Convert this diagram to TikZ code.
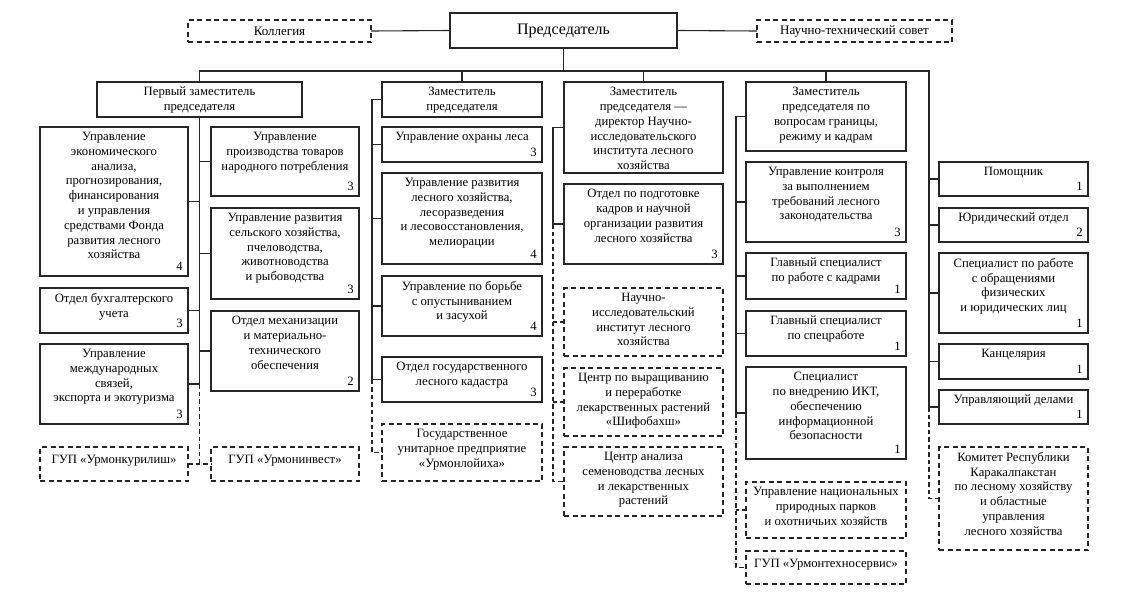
\documentclass[tikz,border=0pt]{standalone}
\usepackage{fontspec}
\setmainfont{Liberation Serif}
\tikzset{
 bx/.style={draw=black!85, line width=1.3pt, rectangle, inner sep=0pt, outer sep=0pt},
 dbx/.style={draw=black!85, line width=1.4pt, dash pattern=on 5pt off 3.5pt, rectangle, inner sep=0pt, outer sep=0pt},
 lbl/.style={align=center, inner xsep=1pt, inner ysep=5pt, font=\fontsize{12.7}{14.8}\selectfont, anchor=north},
 numl/.style={inner xsep=5pt, inner ysep=5pt, font=\fontsize{12.7}{14.8}\selectfont, anchor=south east},
 con/.style={draw=black!85, line width=1.1pt},
 dcon/.style={draw=black!85, line width=1.1pt, dash pattern=on 4.5pt off 3pt},
}
\newcommand\obox[7]{\node[#1, minimum width={(#5-#3)*1pt}, minimum height={(#6-#4)*1pt}] (#2) at ({(#3+#5)/2},{(#4+#6)/2}) {};
 \node[lbl] (#2t) at (#2.north) {#7};}
\newcommand\gbox[6]{\node[dbx, minimum width={(#5-#3)*1pt}, minimum height={(#6-#4)*1pt}] (#2) at ({(#3+#5)/2},{(#4+#6)/2}) {};
 \node[lbl, inner ysep=7.5pt] (#2t) at (#2.north) {#1};}
\newcommand\onum[2]{\node[numl] (#1n) at (#1.south east) {#2};}
\begin{document}
\begin{tikzpicture}[x=1pt,y=-1pt]
\useasboundingbox (0,0) rectangle (1126,605);
% top
\node[bx, minimum width=227pt, minimum height=35pt, font=\fontsize{16}{18}\selectfont] (pred) at (563.5,30.5) {Председатель};
\node[dbx, minimum width=183pt, minimum height=22pt, font=\fontsize{13}{14.8}\selectfont] (koll) at (279.5,31) {Коллегия};
\node[dbx, minimum width=195pt, minimum height=22pt, font=\fontsize{13}{14.8}\selectfont] (nts) at (854.5,31) {Научно-технический совет};
% deputies
\obox{bx}{z1}{97}{82}{302}{117}{Первый заместитель\\председателя}
\obox{bx}{z2}{382}{82}{542}{117}{Заместитель\\председателя}
\obox{bx}{z3}{564}{82}{723}{173}{Заместитель\\председателя —\\директор Научно-\\исследовательского\\института лесного\\хозяйства}
\obox{bx}{z4}{746}{82}{906}{151}{Заместитель\\председателя по\\вопросам границы,\\режиму и кадрам}
% column 1
\obox{bx}{a1}{40}{127}{188}{276}{Управление\\экономического\\анализа,\\прогнозирования,\\финансирования\\и управления\\средствами Фонда\\развития лесного\\хозяйства}\onum{a1}{4}
\obox{bx}{a2}{40}{288}{188}{333}{Отдел бухгалтерского\\учета}\onum{a2}{3}
\obox{bx}{a3}{40}{344}{188}{424}{Управление\\международных\\связей,\\экспорта и экотуризма}\onum{a3}{3}
\gbox{ГУП «Урмонкурилиш»}{a4}{40}{447}{188}{481}
\obox{bx}{b1}{211}{127}{359}{196}{Управление\\производства товаров\\народного потребления}\onum{b1}{3}
\obox{bx}{b2}{211}{208}{359}{299}{Управление развития\\сельского хозяйства,\\пчеловодства,\\животноводства\\и рыбоводства}\onum{b2}{3}
\obox{bx}{b3}{211}{311}{359}{391}{Отдел механизации\\и материально-\\технического\\обеспечения}\onum{b3}{2}
\gbox{ГУП «Урмонинвест»}{b4}{211}{447}{359}{481}
% column 2
\obox{bx}{c1}{382}{127}{542}{162}{Управление охраны леса}\onum{c1}{3}
\obox{bx}{c2}{382}{173}{542}{264}{Управление развития\\лесного хозяйства,\\лесоразведения\\и лесовосстановления,\\мелиорации}\onum{c2}{4}
\obox{bx}{c3}{382}{276}{542}{336}{Управление по борьбе\\с опустыниванием\\и засухой}\onum{c3}{4}
\obox{bx}{c4}{382}{357}{542}{402}{Отдел государственного\\лесного кадастра}\onum{c4}{3}
\obox{dbx}{c5}{382}{424}{542}{481}{Государственное\\унитарное предприятие\\«Урмонлойиха»}
% column 3
\obox{bx}{d1}{564}{184}{723}{264}{Отдел по подготовке\\кадров и научной\\организации развития\\лесного хозяйства}\onum{d1}{3}
\obox{dbx}{d2}{564}{288}{723}{356}{Научно-\\исследовательский\\институт лесного\\хозяйства}
\obox{dbx}{d3}{564}{368}{723}{436}{Центр по выращиванию\\и переработке\\лекарственных растений\\«Шифобахш»}
\obox{dbx}{d4}{564}{447}{723}{516}{Центр анализа\\семеноводства лесных\\и лекарственных\\растений}
% column 4
\obox{bx}{e1}{746}{162}{906}{242}{Управление контроля\\за выполнением\\требований лесного\\законодательства}\onum{e1}{3}
\obox{bx}{e2}{746}{253}{906}{299}{Главный специалист\\по работе с кадрами}\onum{e2}{1}
\obox{bx}{e3}{746}{311}{906}{356}{Главный специалист\\по спецработе}\onum{e3}{1}
\obox{bx}{e4}{746}{367}{906}{459}{Специалист\\по внедрению ИКТ,\\обеспечению\\информационной\\безопасности}\onum{e4}{1}
\obox{dbx}{e5}{746}{482}{906}{538}{Управление национальных\\природных парков\\и охотничьих хозяйств}
\gbox{ГУП «Урмонтехносервис»}{e6}{746}{551}{906}{584}
% column 5
\obox{bx}{f1}{939}{162}{1088}{196}{Помощник}\onum{f1}{1}
\obox{bx}{f2}{939}{208}{1088}{242}{Юридический отдел}\onum{f2}{2}
\obox{bx}{f3}{939}{253}{1088}{333}{Специалист по работе\\с обращениями\\физических\\и юридических лиц}\onum{f3}{1}
\obox{bx}{f4}{939}{344}{1088}{379}{Канцелярия}\onum{f4}{1}
\obox{bx}{f5}{939}{390}{1088}{424}{Управляющий делами}\onum{f5}{1}
\obox{dbx}{f6}{939}{447}{1088}{550}{Комитет Республики\\Каракалпакстан\\по лесному хозяйству\\и областные\\управления\\лесного хозяйства}
% spine coordinates
\coordinate (bus) at (0,71);
\coordinate (s2) at (372,0);
\coordinate (s3) at (553,0);
\coordinate (s4) at (736,0);
\coordinate (s5) at (929,0);
% top connectors
\draw[con] (pred.west) -- (koll.east);
\draw[con] (pred.east) -- (nts.west);
\draw[con] (pred.south) -- (pred.south |- bus);
\draw[con] (z1.north) -- (z1.north |- bus) -- (s5 |- bus) -- (s5 |- f5.west);
\draw[con] (z2.north) -- (z2.north |- bus);
\draw[con] (z3.north) -- (z3.north |- bus);
\draw[con] (z4.north) -- (z4.north |- bus);
% column 1
\draw[con] (z1.south) -- (z1.south |- a3.east);
\foreach \n in {a1,a2,a3} \draw[con] (\n.east) -- (\n.east -| z1.south);
\foreach \n in {b1,b2,b3} \draw[con] (\n.west) -- (\n.west -| z1.south);
\draw[dcon] (z1.south |- a3.east) -- (z1.south |- a4.east);
\draw[dcon] (a4.east) -- (b4.west);
% column 2
\draw[con] (z2.west) -- (z2.west -| s2) -- (s2 |- c4.west);
\foreach \n in {c1,c2,c3,c4} \draw[con] (\n.west) -- (\n.west -| s2);
\draw[dcon] (s2 |- c4.west) -- (s2 |- c5.west) -- (c5.west);
% column 3
\draw[con] (z3.west) -- (z3.west -| s3) -- (s3 |- d1.west) -- (d1.west);
\draw[dcon] (s3 |- d1.west) -- (s3 |- d4.west) -- (d4.west);
\foreach \n in {d2,d3} \draw[dcon] (\n.west) -- (\n.west -| s3);
% column 4
\draw[con] (z4.west) -- (z4.west -| s4) -- (s4 |- e4.west);
\foreach \n in {e1,e2,e3,e4} \draw[con] (\n.west) -- (\n.west -| s4);
\draw[dcon] (s4 |- e4.west) -- (s4 |- e6.west) -- (e6.west);
\draw[dcon] (e5.west) -- (e5.west -| s4);
% column 5
\foreach \n in {f1,f2,f3,f4,f5} \draw[con] (\n.west) -- (\n.west -| s5);
\draw[dcon] (s5 |- f5.west) -- (s5 |- f6.west) -- (f6.west);
\end{tikzpicture}
\end{document}
